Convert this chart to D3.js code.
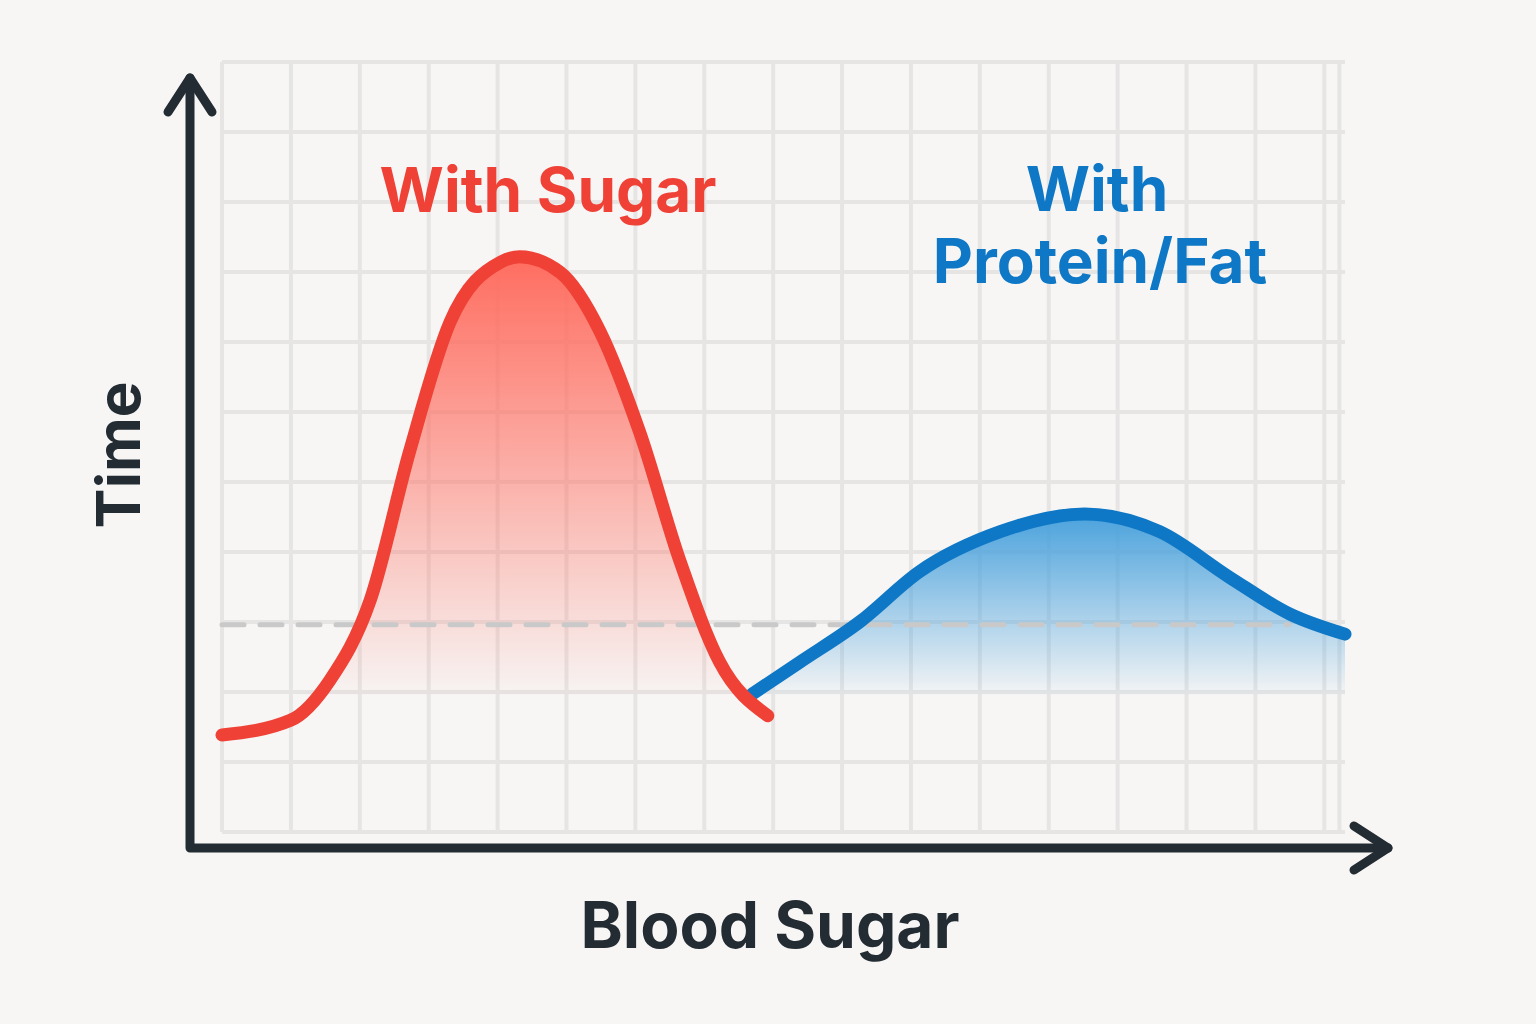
<!DOCTYPE html>
<html><head><meta charset="utf-8">
<script src="https://cdn.jsdelivr.net/npm/d3@7"></script>
<style>body{margin:0;background:#f7f6f5;}svg{display:block;}</style>
</head><body>
<svg id="c" width="1536" height="1024"></svg>
<script>
// Data (x: time-like units 0..100 across plot, y: level 0..100)
const sugarX = [0, 6.1, 9.6, 13.2, 16.7, 20.3, 24.8, 26.5, 30.1, 33.7, 37.2, 40.8, 44.3, 48.6];
const sugarY = [12.6, 14.5, 19.7, 30.1, 49.4, 66.2, 74, 74.7, 72.7, 64.9, 51.9, 35.1, 22.1, 15.1];
const proteinX = [47.2, 51.5, 56.8, 62.1, 69.3, 76.8, 83.5, 89.7, 95.1, 100];
const proteinY = [17.9, 22.1, 27.3, 33.8, 39, 41.3, 39, 33.1, 28.3, 25.7];
const baseline = 26.9;
const fillFloor = 17.8;
const seriesLabels = ["With Sugar", "With", "Protein/Fat"];
const axisLabels = ["Time", "Blood Sugar"];

const svg = d3.select("#c");
const x = d3.scaleLinear().domain([0,100]).range([222,1345]);
const y = d3.scaleLinear().domain([0,100]).range([832,62]);

// grid
const gx = d3.range(0, 101, 100/16.3);
const gy = d3.range(0, 100.1, 100/11);
const grid = svg.append("g").attr("stroke","#e6e5e4").attr("stroke-width",4);
gx.concat([99.5]).forEach(v=>grid.append("line").attr("x1",x(v)).attr("x2",x(v)).attr("y1",y(0)).attr("y2",y(100)));
gy.forEach(v=>grid.append("line").attr("x1",x(0)).attr("x2",x(100)).attr("y1",y(v)).attr("y2",y(v)));

// gradients
const defs = svg.append("defs");
function grad(id, c){
  const g = defs.append("linearGradient").attr("id",id).attr("x1",0).attr("x2",0).attr("y1",0).attr("y2",1);
  g.append("stop").attr("offset","0%").attr("stop-color",c).attr("stop-opacity",1);
  g.append("stop").attr("offset","100%").attr("stop-color",c).attr("stop-opacity",0.02);
}
grad("gr","#ff6d60"); grad("gb","#4aa2dd");

function draw(xs, ys, color, gid){
  const pts = xs.map((v,i)=>[v, ys[i]]);
  const area = d3.area().x(d=>x(d[0])).y0(y(fillFloor)).y1(d=>y(Math.max(d[1],fillFloor))).curve(d3.curveMonotoneX);
  svg.append("path").attr("d",area(pts)).attr("fill",`url(#${gid})`);
  return ()=>svg.append("path").attr("d",d3.line().x(d=>x(d[0])).y(d=>y(d[1])).curve(d3.curveMonotoneX)(pts))
    .attr("fill","none").attr("stroke",color).attr("stroke-width",13).attr("stroke-linecap","round");
}
const dr = draw(sugarX, sugarY, "#ef4136", "gr");
const db = draw(proteinX, proteinY, "#0f78c6", "gb");
svg.append("line").attr("x1",x(0)).attr("x2",x(95)).attr("y1",y(baseline)).attr("y2",y(baseline))
  .attr("stroke","#c9c9c9").attr("stroke-width",5).attr("stroke-dasharray","22,16").attr("stroke-linecap","round");
db(); dr();

// axes
const ax = svg.append("g").attr("stroke","#232c33").attr("stroke-width",9).attr("fill","none")
  .attr("stroke-linecap","round").attr("stroke-linejoin","round");
ax.append("path").attr("d","M190,78 L190,848 L1388,848");
ax.append("path").attr("d","M168,112 L190,78 L212,112");
ax.append("path").attr("d","M1354,826 L1388,848 L1354,870");

// labels
const f = "Inter, 'Open Sans', sans-serif";
svg.append("text").attr("x",548).attr("y",212).attr("text-anchor","middle").attr("font-family",f).attr("font-weight",700).attr("font-size",62).attr("fill","#ef4136").text(seriesLabels[0]);
svg.append("text").attr("x",1097).attr("y",211).attr("text-anchor","middle").attr("font-family",f).attr("font-weight",700).attr("font-size",62).attr("fill","#0f78c6").text(seriesLabels[1]);
svg.append("text").attr("x",1100).attr("y",283).attr("text-anchor","middle").attr("font-family",f).attr("font-weight",700).attr("font-size",62).attr("fill","#0f78c6").text(seriesLabels[2]);
svg.append("text").attr("transform","translate(140,455) rotate(-90)").attr("text-anchor","middle").attr("font-family",f).attr("font-weight",700).attr("font-size",60).attr("fill","#232c33").text(axisLabels[0]);
svg.append("text").attr("x",770).attr("y",948).attr("text-anchor","middle").attr("font-family",f).attr("font-weight",700).attr("font-size",64).attr("fill","#232c33").text(axisLabels[1]);
</script>
</body></html>
